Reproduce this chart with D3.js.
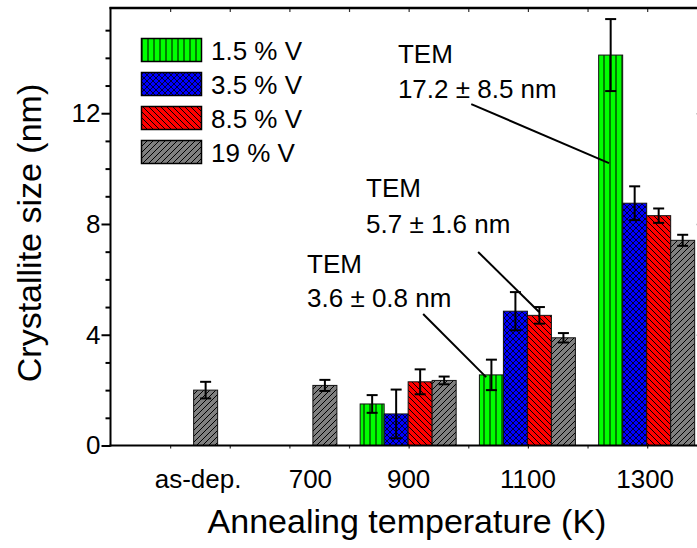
<!DOCTYPE html>
<html>
<head>
<meta charset="utf-8">
<script src="https://cdn.jsdelivr.net/npm/d3@7"></script>
<style>
  html, body { margin: 0; padding: 0; background: #fff; }
  svg { display: block; }
  text { font-family: "Liberation Sans", Arial, sans-serif; fill: #000; }
</style>
</head>
<body>
<div id="chart"></div>
<script>
// ---------------- data ----------------
const categories = ["as-dep.", "700", "900", "1100", "1300"];
const temperatures = [500, 700, 900, 1100, 1300];   // x position of each category (K)
const seriesNames = ["1.5 % V", "3.5 % V", "8.5 % V", "19 % V"];
const size15 = [null, null, 1.50, 2.55, 14.10];
const err15  = [null, null, 0.32, 0.55, 1.30];
const size35 = [null, null, 1.14, 4.85, 8.75];
const err35  = [null, null, 0.88, 0.69, 0.61];
const size85 = [null, null, 2.30, 4.70, 8.30];
const err85  = [null, null, 0.45, 0.30, 0.26];
const size19 = [2.00, 2.17, 2.35, 3.89, 7.41];
const err19  = [0.30, 0.20, 0.14, 0.17, 0.20];
const yTickValues = [0, 4, 8, 12];
const yMinorValues = [1, 2, 3, 5, 6, 7, 9, 10, 11, 13, 14, 15];
const xTickValues = [500, 600, 700, 800, 900, 1000, 1100, 1200, 1300, 1400];
const temLabels = ["17.2 \u00B1 8.5 nm", "5.7 \u00B1 1.6 nm", "3.6 \u00B1 0.8 nm"];
const xTitle = "Annealing temperature (K)";
const yTitle = "Crystallite size (nm)";

// ---------------- layout ----------------
const W = 697, H = 548;
const mLeft = 110.5, mBottom = 445.5, mTop = 8, mRight = 706.8;
const fontTick = 26, fontTitle = 34;

const svg = d3.select("#chart").append("svg")
  .attr("width", W).attr("height", H).attr("viewBox", `0 0 ${W} ${H}`);

const x = d3.scaleLinear().domain([400, 1400]).range([mLeft, mRight]);
const y = d3.scaleLinear().domain([0, 15.8]).range([mBottom, mTop]);
const sub = d3.scaleBand().domain(seriesNames).range([-48.5, 47.5]).padding(0);

// ---------------- patterns ----------------
const defs = svg.append("defs");
const fills = ["#00ff00", "#0000ff", "#ff0000", "#808080"];
const patternPaths = [
  "M3,0 V6",
  "M0,0 L6,6 M6,0 L0,6 M-1,5 L1,7 M5,-1 L7,1 M-1,1 L1,-1 M5,7 L7,5",
  "M0,0 L6,6 M-1,5 L1,7 M5,-1 L7,1",
  "M0,6 L6,0 M-1,1 L1,-1 M5,7 L7,5"
];
const patternWidths = [1, 0.8, 1, 1];
seriesNames.forEach((s, i) => {
  const p = defs.append("pattern")
    .attr("id", "pat" + i).attr("patternUnits", "userSpaceOnUse")
    .attr("width", 6).attr("height", 6)
    .attr("x", i === 0 ? 1 : 0).attr("y", 0);
  p.append("rect").attr("width", 6).attr("height", 6).attr("fill", fills[i]);
  p.append("path").attr("d", patternPaths[i]).attr("stroke", "#000")
    .attr("stroke-width", patternWidths[i]).attr("fill", "none");
});

// ---------------- bars ----------------
const values = [size15, size35, size85, size19];
const errors = [err15, err35, err85, err19];
const bars = [];
seriesNames.forEach((s, si) => {
  temperatures.forEach((t, ci) => {
    if (values[si][ci] != null) bars.push({ s, si, t, v: values[si][ci], e: errors[si][ci] });
  });
});

svg.append("g").selectAll("rect").data(bars).join("rect")
  .attr("x", d => x(d.t) + sub(d.s))
  .attr("y", d => y(d.v))
  .attr("width", sub.bandwidth())
  .attr("height", d => y(0) - y(d.v))
  .attr("fill", d => `url(#pat${d.si})`)
  .attr("stroke", "#111").attr("stroke-width", 1);

// error bars
const eb = svg.append("g").attr("stroke", "#000").attr("stroke-width", 2);
const cx = d => x(d.t) + sub(d.s) + sub.bandwidth() / 2;
eb.selectAll("line.v").data(bars).join("line").attr("class", "v")
  .attr("x1", cx).attr("x2", cx)
  .attr("y1", d => y(d.v - d.e)).attr("y2", d => y(d.v + d.e));
eb.selectAll("line.t").data(bars).join("line").attr("class", "t")
  .attr("x1", d => cx(d) - 5.5).attr("x2", d => cx(d) + 5.5)
  .attr("y1", d => y(d.v + d.e)).attr("y2", d => y(d.v + d.e));
eb.selectAll("line.b").data(bars).join("line").attr("class", "b")
  .attr("x1", d => cx(d) - 5.5).attr("x2", d => cx(d) + 5.5)
  .attr("y1", d => y(d.v - d.e)).attr("y2", d => y(d.v - d.e));

// ---------------- TEM annotations (positions in data units) ----------------
const annotLayout = [
  { tx: 882, ty1: 13.81, ty2: 12.55, l: [1005, 12.33, 1236, 10.2] },
  { tx: 828.6, ty1: 8.97, ty2: 7.67, l: [1016.5, 6.99, 1118.8, 4.82] },
  { tx: 729.6, ty1: 6.23, ty2: 5.0, l: [924.3, 4.75, 1030, 2.47] }
];
const ag = svg.append("g");
annotLayout.forEach((a, i) => {
  ag.append("text").attr("x", x(a.tx)).attr("y", y(a.ty1))
    .attr("font-size", fontTick).text("TEM");
  ag.append("text").attr("x", x(a.tx)).attr("y", y(a.ty2))
    .attr("font-size", fontTick).text(temLabels[i]);
  ag.append("line")
    .attr("x1", x(a.l[0])).attr("y1", y(a.l[1]))
    .attr("x2", x(a.l[2])).attr("y2", y(a.l[3]))
    .attr("stroke", "#000").attr("stroke-width", 2);
});

// ---------------- axes ----------------
function clean(g) { g.select(".domain").remove(); }

// left major with labels
svg.append("g").attr("transform", `translate(${mLeft},0)`)
  .call(d3.axisLeft(y).tickValues(yTickValues).tickSize(9).tickPadding(1))
  .call(clean)
  .call(g => g.selectAll("line").attr("stroke-width", 2))
  .call(g => g.selectAll("text").attr("font-size", fontTick)
    .attr("font-family", '"Liberation Sans", Arial, sans-serif').attr("fill", "#000"));
// left minor
svg.append("g").attr("transform", `translate(${mLeft},0)`)
  .call(d3.axisLeft(y).tickValues(yMinorValues).tickSize(5).tickFormat(""))
  .call(clean)
  .call(g => g.selectAll("line").attr("stroke-width", 2));
// right (inward)
svg.append("g").attr("transform", `translate(${mRight},0)`)
  .call(d3.axisLeft(y).tickValues(yTickValues).tickSize(10).tickFormat(""))
  .call(clean)
  .call(g => g.selectAll("line").attr("stroke-width", 1.5));
// bottom ticks
svg.append("g").attr("transform", `translate(0,${mBottom})`)
  .call(d3.axisBottom(x).tickValues(xTickValues).tickSize(3).tickFormat(""))
  .call(clean)
  .call(g => g.selectAll("line").attr("stroke-width", 1.2).attr("stroke", "#333"));
// top ticks (inward)
svg.append("g").attr("transform", `translate(0,${mTop})`)
  .call(d3.axisBottom(x).tickValues(xTickValues).tickSize(4).tickFormat(""))
  .call(clean)
  .call(g => g.selectAll("line").attr("stroke-width", 1.2).attr("stroke", "#333"));

// frame
const frame = svg.append("g").attr("stroke", "#000").attr("fill", "none");
frame.append("line").attr("x1", mLeft).attr("x2", mLeft).attr("y1", mTop - 1).attr("y2", mBottom + 1).attr("stroke-width", 2);
frame.append("line").attr("x1", mLeft - 1).attr("x2", mRight).attr("y1", mBottom).attr("y2", mBottom).attr("stroke-width", 2);
frame.append("line").attr("x1", mLeft - 1).attr("x2", mRight).attr("y1", mTop).attr("y2", mTop).attr("stroke-width", 2.5);
frame.append("line").attr("x1", mRight).attr("x2", mRight).attr("y1", mTop).attr("y2", mBottom).attr("stroke-width", 2);

// x category labels
const labelDx = [28, 21, 0, 0, -2];
svg.append("g").selectAll("text").data(categories).join("text")
  .attr("x", (d, i) => x(temperatures[i]) + labelDx[i])
  .attr("y", 488)
  .attr("text-anchor", "middle")
  .attr("font-size", fontTick)
  .text(d => d);

// axis titles
svg.append("text").attr("x", 407).attr("y", 533).attr("text-anchor", "middle")
  .attr("font-size", fontTitle).text(xTitle);
svg.append("text").attr("transform", "translate(41,233) rotate(-90)")
  .attr("text-anchor", "middle").attr("font-size", fontTitle).text(yTitle);

// ---------------- legend ----------------
const leg = svg.append("g");
seriesNames.forEach((s, i) => {
  const ty = 38.5 + i * 34;
  leg.append("rect").attr("x", 141.5).attr("y", ty).attr("width", 60).attr("height", 23)
    .attr("fill", `url(#pat${i})`).attr("stroke", "#000").attr("stroke-width", 1.5);
  leg.append("text").attr("x", 211).attr("y", ty + 21.5)
    .attr("font-size", fontTick).text(s);
});
</script>
</body>
</html>
